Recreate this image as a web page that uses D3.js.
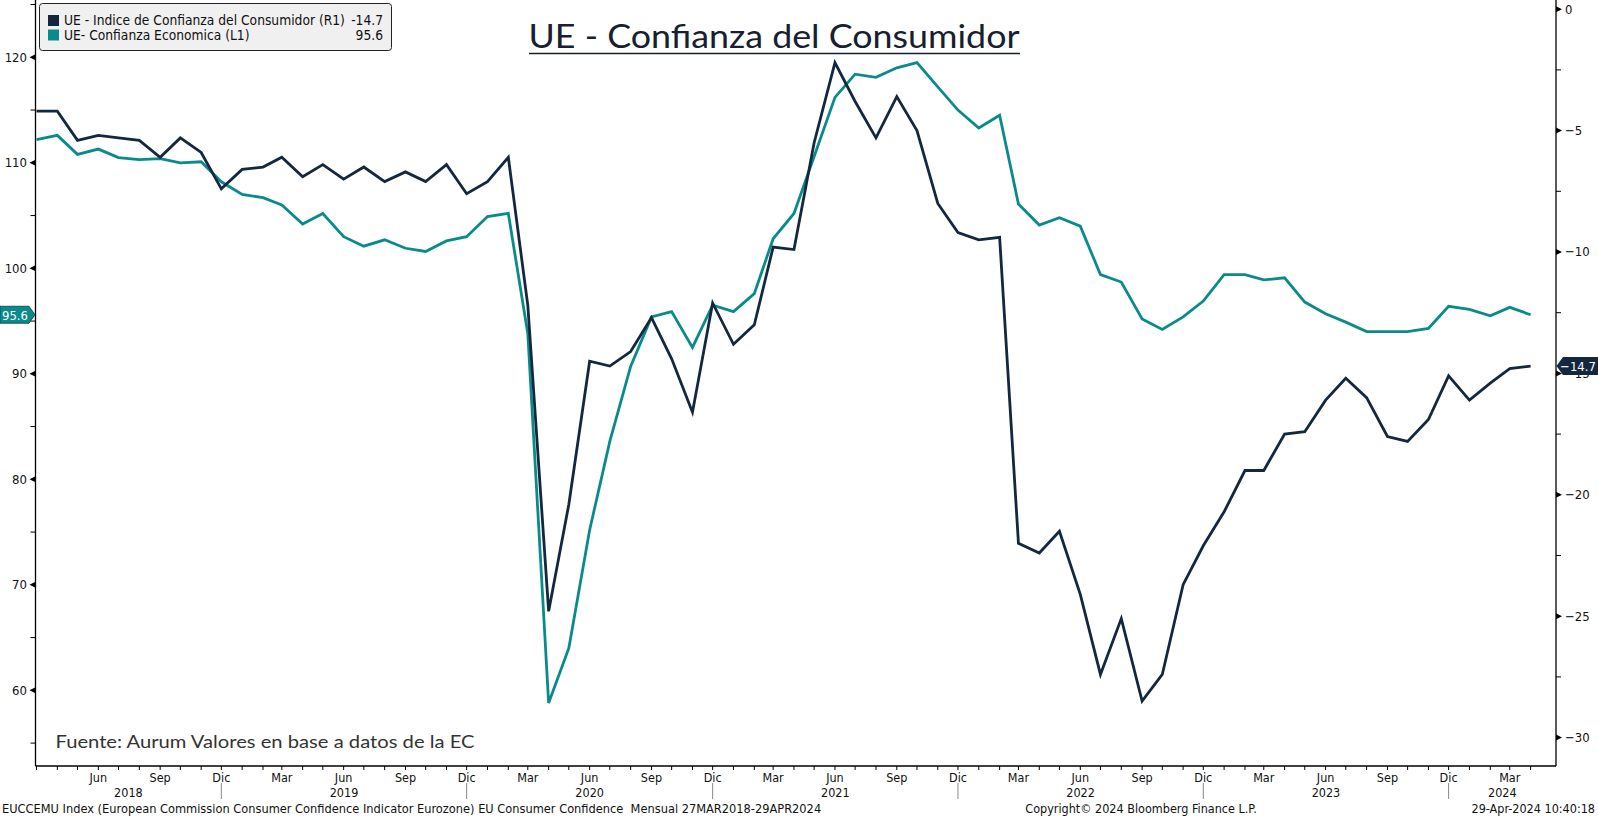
<!DOCTYPE html>
<html>
<head>
<meta charset="utf-8">
<script src="https://cdn.jsdelivr.net/npm/d3@7"></script>
<style>
  body { margin: 0; background: #fff; }
  svg { display: block; }
  .bb { font-family: Tahoma, "DejaVu Sans Condensed", "Liberation Sans", sans-serif; fill: #111; white-space: pre; }
</style>
</head>
<body>
<svg id="chart" width="1598" height="818"></svg>
<script>
// monthly data, Mar 2018 .. Apr 2024
const startMonth = new Date(2018, 2, 1);
const endMonth = new Date(2024, 3, 1);

// UE - Indice de Confianza del Consumidor (R1)
const consumerConfidence = [
  -4.2, -4.2, -5.4, -5.2, -5.3, -5.4, -6.1, -5.3, -5.9, -7.4,
  -6.6, -6.5, -6.1, -6.9, -6.4, -7.0, -6.5, -7.1, -6.7, -7.1,
  -6.4, -7.6, -7.1, -6.1, -12.2, -24.8, -20.4, -14.5, -14.7, -14.1,
  -12.7, -14.4, -16.6, -12.1, -13.8, -13.0, -9.8, -9.9, -5.5, -2.2,
  -3.8, -5.3, -3.6, -5.0, -8.0, -9.2, -9.5, -9.4, -22.0, -22.4,
  -21.5, -24.1, -27.4, -25.1, -28.5, -27.4, -23.7, -22.1, -20.7, -19.0,
  -19.0, -17.5, -17.4, -16.1, -15.2, -16.0, -17.6, -17.8, -16.9, -15.1,
  -16.1, -15.4, -14.8, -14.7
];

// UE- Confianza Economica (L1)
const economicSentiment = [
  112.2, 112.6, 110.8, 111.3, 110.5, 110.3, 110.4, 110.0, 110.1, 108.2,
  107.0, 106.7, 106.0, 104.2, 105.2, 103.0, 102.1, 102.7, 101.9, 101.6,
  102.6, 103.0, 104.9, 105.2, 93.8, 58.8, 64.0, 75.2, 83.6, 90.7,
  95.4, 95.9, 92.5, 96.5, 95.9, 97.6, 102.8, 105.2, 110.6, 116.2,
  118.4, 118.1, 119.0, 119.5, 117.2, 115.0, 113.3, 114.5, 106.1, 104.1,
  104.8, 104.0, 99.4, 98.7, 95.2, 94.2, 95.4, 96.9, 99.4, 99.4,
  98.9, 99.1, 96.8, 95.7, 94.9, 94.0, 94.0, 94.0, 94.3, 96.4,
  96.1, 95.5, 96.3, 95.6
];

const leftTicks = [60, 70, 80, 90, 100, 110, 120];
const leftMinorTicks = [55, 65, 75, 85, 95, 105, 115, 125];
const rightTicks = [0, -5, -10, -15, -20, -25, -30];
const rightMinorTicks = [-2.5, -7.5, -12.5, -17.5, -22.5, -27.5];
const monthNames = ["Ene", "Feb", "Mar", "Abr", "May", "Jun", "Jul", "Ago", "Sep", "Oct", "Nov", "Dic"];

const seriesNames = ["UE - Indice de Confianza del Consumidor (R1)", "UE- Confianza Economica (L1)"];
const titleText = "UE - Confianza del Consumidor";
const sourceText = "Fuente: Aurum Valores en base a datos de la EC";
const footerLeft = "EUCCEMU Index (European Commission Consumer Confidence Indicator Eurozone) EU Consumer Confidence  Mensual 27MAR2018-29APR2024";
const footerMid = "Copyright\u00A9 2024 Bloomberg Finance L.P.";
const footerRight = "29-Apr-2024 10:40:18";

const navy = "#13283f";
const teal = "#0a8b8b";

const months = d3.timeMonth.range(startMonth, d3.timeMonth.offset(endMonth, 1));

const plotLeft = 35.5, plotRight = 1556, plotBottom = 766;

const x = d3.scaleTime().domain([startMonth, endMonth]).range([36.5, 1530.6]);
const yLeft = d3.scaleLinear().domain([52.83, 125.43]).range([plotBottom, 0]);
const yRight = d3.scaleLinear().domain([-31.17, 0.379]).range([plotBottom, 0]);

const svg = d3.select("#chart");

// title
svg.append("text")
  .attr("x", 774).attr("y", 48)
  .attr("text-anchor", "middle")
  .attr("textLength", 491).attr("lengthAdjust", "spacingAndGlyphs")
  .style("font-family", "Lato, 'Noto Sans', sans-serif")
  .style("font-size", "32px")
  .style("fill", "#16202e")
  .text(titleText);
svg.append("line")
  .attr("x1", 529).attr("x2", 1020).attr("y1", 53.5).attr("y2", 53.5)
  .attr("stroke", "#16202e").attr("stroke-width", 1.5);

// axes lines
svg.append("line").attr("x1", plotLeft).attr("x2", plotLeft).attr("y1", 0).attr("y2", plotBottom)
  .attr("stroke", "#000").attr("stroke-width", 1.3);
svg.append("line").attr("x1", plotRight).attr("x2", plotRight).attr("y1", 0).attr("y2", plotBottom)
  .attr("stroke", "#000").attr("stroke-width", 1.3);
svg.append("line").attr("x1", plotLeft).attr("x2", plotRight).attr("y1", plotBottom).attr("y2", plotBottom)
  .attr("stroke", "#000").attr("stroke-width", 1.3);

// left axis
let leftAxis = svg.append("g");
leftAxis.selectAll("path.tri")
  .data(leftTicks)
  .enter()
  .append("path")
  .attr("d", d => `M${plotLeft},${yLeft(d) - 3}L${plotLeft - 6},${yLeft(d)}L${plotLeft},${yLeft(d) + 3}Z`)
  .attr("fill", "#000");
leftAxis.selectAll("line.minor")
  .data(leftMinorTicks)
  .enter()
  .append("line")
  .attr("x1", plotLeft - 5).attr("x2", plotLeft)
  .attr("y1", d => yLeft(d)).attr("y2", d => yLeft(d))
  .attr("stroke", "#000");
leftAxis.selectAll("text")
  .data(leftTicks)
  .enter()
  .append("text")
  .attr("class", "bb")
  .attr("x", 27).attr("y", d => yLeft(d) + 4.5)
  .attr("text-anchor", "end")
  .style("font-size", "13px")
  .text(d => d);

// right axis (the -15 label sits under the last-value tag, as in the original)
let rightAxis = svg.append("g");
rightAxis.selectAll("path.tri")
  .data(rightTicks)
  .enter()
  .append("path")
  .attr("d", d => `M${plotRight},${yRight(d) - 3}L${plotRight + 6},${yRight(d)}L${plotRight},${yRight(d) + 3}Z`)
  .attr("fill", "#000");
rightAxis.selectAll("line.minor")
  .data(rightMinorTicks)
  .enter()
  .append("line")
  .attr("x1", plotRight).attr("x2", plotRight + 5)
  .attr("y1", d => yRight(d)).attr("y2", d => yRight(d))
  .attr("stroke", "#000");
rightAxis.selectAll("text")
  .data(rightTicks)
  .enter()
  .append("text")
  .attr("class", "bb")
  .attr("x", 1565).attr("y", d => yRight(d) + 4.5)
  .style("font-size", "13px")
  .text(d => d === 0 ? "0" : "\u2212" + Math.abs(d));

// bottom axis: month ticks, quarter labels, year labels
let bottomAxis = svg.append("g");
bottomAxis.selectAll("line.tick")
  .data(months)
  .enter()
  .append("line")
  .attr("x1", d => x(d)).attr("x2", d => x(d))
  .attr("y1", plotBottom).attr("y2", plotBottom + 4)
  .attr("stroke", "#000");
bottomAxis.selectAll("text.month")
  .data(months.filter((d, i) => i > 0 && d.getMonth() % 3 === 2))
  .enter()
  .append("text")
  .attr("class", "bb")
  .attr("x", d => x(d)).attr("y", 782)
  .attr("text-anchor", "middle")
  .style("font-size", "12.5px")
  .text(d => monthNames[d.getMonth()]);

let decembers = months.filter(d => d.getMonth() === 11);
bottomAxis.selectAll("line.sep")
  .data(decembers)
  .enter()
  .append("line")
  .attr("x1", d => x(d)).attr("x2", d => x(d))
  .attr("y1", 783).attr("y2", 799)
  .attr("stroke", "#888");

let bounds = [plotLeft].concat(decembers.map(d => x(d))).concat([plotRight]);
let years = d3.range(2018, 2025);
bottomAxis.selectAll("text.year")
  .data(years)
  .enter()
  .append("text")
  .attr("class", "bb")
  .attr("x", (d, i) => (bounds[i] + bounds[i + 1]) / 2).attr("y", 797)
  .attr("text-anchor", "middle")
  .style("font-size", "12.5px")
  .text(d => d);

// lines
let lineLeft = d3.line().x((d, i) => x(months[i])).y(d => yLeft(d));
let lineRight = d3.line().x((d, i) => x(months[i])).y(d => yRight(d));

svg.append("path")
  .datum(economicSentiment)
  .attr("d", lineLeft)
  .attr("fill", "none")
  .attr("stroke", teal)
  .attr("stroke-width", 2.8)
  .attr("stroke-linejoin", "miter");

svg.append("path")
  .datum(consumerConfidence)
  .attr("d", lineRight)
  .attr("fill", "none")
  .attr("stroke", navy)
  .attr("stroke-width", 2.8)
  .attr("stroke-linejoin", "miter");

// last value tags
let lastLeft = economicSentiment[economicSentiment.length - 1];
let lastRight = consumerConfidence[consumerConfidence.length - 1];
let ty = yLeft(lastLeft);
svg.append("path")
  .attr("d", `M0,${ty - 8.5}L29,${ty - 8.5}L${plotLeft - 0.5},${ty}L29,${ty + 8.5}L0,${ty + 8.5}Z`)
  .attr("fill", teal).attr("stroke", "#063f3f").attr("stroke-width", 0.8);
svg.append("text")
  .attr("class", "bb")
  .attr("x", 15).attr("y", ty + 5)
  .attr("text-anchor", "middle")
  .style("font-size", "13px").style("fill", "#fff")
  .text(lastLeft.toFixed(1));

let ry = yRight(lastRight);
svg.append("path")
  .attr("d", `M${plotRight + 0.5},${ry}L${plotRight + 7},${ry - 9}L1598,${ry - 9}L1598,${ry + 9}L${plotRight + 7},${ry + 9}Z`)
  .attr("fill", navy);
svg.append("text")
  .attr("class", "bb")
  .attr("x", 1578).attr("y", ry + 5)
  .attr("text-anchor", "middle")
  .style("font-size", "13px").style("fill", "#fff")
  .text("\u2212" + Math.abs(lastRight).toFixed(1));

// legend
let legend = svg.append("g");
legend.append("rect")
  .attr("x", 39.5).attr("y", 3.5).attr("width", 352).attr("height", 47).attr("rx", 3)
  .attr("fill", "#f0f0f0").attr("stroke", "#222").attr("stroke-width", 1);
let legendRows = [
  { name: seriesNames[0], color: navy, value: "-" + Math.abs(lastRight).toFixed(1) },
  { name: seriesNames[1], color: teal, value: lastLeft.toFixed(1) }
];
legendRows.forEach((r, i) => {
  let cy = 20.5 + i * 14.5;
  legend.append("rect")
    .attr("x", 48).attr("y", cy - 5.5).attr("width", 11).attr("height", 11)
    .attr("fill", r.color);
  legend.append("text")
    .attr("class", "bb")
    .attr("x", 64).attr("y", cy + 4.5)
    .style("font-size", "13.7px")
    .text(r.name);
  legend.append("text")
    .attr("class", "bb")
    .attr("x", 383).attr("y", cy + 4.5)
    .attr("text-anchor", "end")
    .style("font-size", "13.7px")
    .text(r.value);
});

// source note
svg.append("text")
  .attr("x", 55.5).attr("y", 748)
  .attr("textLength", 419).attr("lengthAdjust", "spacingAndGlyphs")
  .style("font-family", "Lato, 'Noto Sans', sans-serif")
  .style("font-size", "17px")
  .style("fill", "#333")
  .text(sourceText);

// footer
svg.append("text").attr("class", "bb").attr("x", 2).attr("y", 813)
  .style("font-size", "12.7px").text(footerLeft);
svg.append("text").attr("class", "bb").attr("x", 1141).attr("y", 813)
  .attr("text-anchor", "middle").style("font-size", "12.5px").text(footerMid);
svg.append("text").attr("class", "bb").attr("x", 1595).attr("y", 813)
  .attr("text-anchor", "end").style("font-size", "12.5px").text(footerRight);
</script>
</body>
</html>
